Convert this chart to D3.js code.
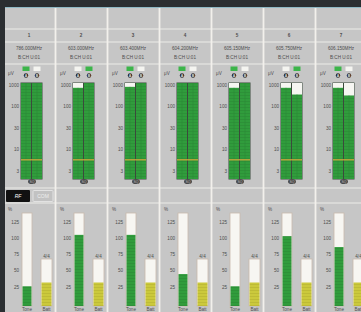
<!DOCTYPE html>
<html>
<head>
<meta charset="utf-8">
<script src="https://cdnjs.cloudflare.com/ajax/libs/d3/7.8.5/d3.min.js"></script>
<style>
    html, body { margin: 0; padding: 0; background: #2b2e31; overflow: hidden; }
    svg { display: block; font-family: "Liberation Sans", "DejaVu Sans", sans-serif; }
    .lbl { fill: #4d4d4d; font-size: 4.6px; }
</style>
</head>
<body>
<svg width="361" height="312"></svg>
<script>
    // channel strip values
    var channels = ["1", "2", "3", "4", "5", "6", "7"];
    var frequencies = ["786.000MHz", "603.000MHz", "603.400MHz", "604.200MHz", "605.150MHz", "605.750MHz", "606.150MHz"];
    var bankChannel = ["B:CH  U:01", "B:CH  U:01", "B:CH  U:01", "B:CH  U:01", "B:CH  U:01", "B:CH  U:01", "B:CH  U:01"];
    var activeAntenna = ["A", "B", "A", "A", "A", "B", "A"];
    var rfLevelA = [100, 95, 96, 100, 95, 95, 95];
    var rfLevelB = [100, 100, 100, 100, 100, 88, 87];
    var squelch = 20;
    var rfTicks = [97, 76, 53, 31, 8];
    var rfTickLabels = ["1000", "100", "30", "10", "3"];
    var afLevel = [26, 106, 106, 45, 26, 104, 87];
    var afTicks = [125, 100, 75, 50, 25];
    var batteryLevel = [50, 50, 50, 50, 50, 50, 50];

    var svg = d3.select("svg");
    var colW = 52;

    var col = d3.scaleBand().domain(channels).range([3, 3 + colW * channels.length]);
    var rfY = d3.scaleLinear().domain([0, 100]).range([179, 83]);
    var afY = d3.scaleLinear().domain([0, 140]).range([303, 213]);
    var batY = d3.scaleLinear().domain([0, 100]).range([306, 259]);

    // patterns for the segmented meters
    var defs = svg.append("defs");
    var pg = defs.append("pattern").attr("id", "segG").attr("patternUnits", "userSpaceOnUse")
        .attr("width", 4).attr("height", 3);
    pg.append("rect").attr("width", 4).attr("height", 3).attr("fill", "#309c3c");
    pg.append("rect").attr("y", 2.4).attr("width", 4).attr("height", 0.6).attr("fill", "#2a8a35");
    var py = defs.append("pattern").attr("id", "segY").attr("patternUnits", "userSpaceOnUse")
        .attr("width", 4).attr("height", 3);
    py.append("rect").attr("width", 4).attr("height", 3).attr("fill", "#cbc93c");
    py.append("rect").attr("y", 2.4).attr("width", 4).attr("height", 0.6).attr("fill", "#b5b232");

    // panel background
    svg.append("rect").attr("x", 5).attr("y", 7).attr("width", 356).attr("height", 305).attr("fill", "#c6c6c6");
    svg.append("line").attr("x1", 5).attr("x2", 361).attr("y1", 7.5).attr("y2", 7.5)
        .attr("stroke", "#8fb8c4").attr("stroke-width", 1);

    // grid lines
    var hLines = [29, 42, 64, 188, 203];
    svg.selectAll(".hl").data(hLines).enter().append("line")
        .attr("x1", 5).attr("x2", 361).attr("y1", function(d) { return d; }).attr("y2", function(d) { return d; })
        .attr("stroke", "#ecebe8").attr("stroke-width", 1.2);
    svg.selectAll(".vl").data(channels.slice(1)).enter().append("line")
        .attr("x1", function(d) { return col(d) + 0.5; }).attr("x2", function(d) { return col(d) + 0.5; })
        .attr("y1", 8).attr("y2", 312)
        .attr("stroke", "#f2f0ec").attr("stroke-width", 1.8);

    // RF / COM tabs
    svg.append("rect").attr("x", 6).attr("y", 190).attr("width", 24).attr("height", 12).attr("rx", 1).attr("fill", "#111");
    svg.append("text").attr("x", 18).attr("y", 198).attr("text-anchor", "middle").attr("fill", "#fff")
        .attr("font-size", 5).attr("font-style", "italic").text("RF");
    svg.append("rect").attr("x", 33).attr("y", 190.5).attr("width", 20).attr("height", 11).attr("rx", 1)
        .attr("fill", "#c2c2c2").attr("stroke", "#e2e2e2").attr("stroke-width", 1);
    svg.append("text").attr("x", 43).attr("y", 198).attr("text-anchor", "middle").attr("fill", "#eee")
        .attr("font-size", 5).text("COM");

    var strip = svg.selectAll(".strip").data(channels).enter().append("g")
        .attr("class", "strip")
        .attr("transform", function(d) { return "translate(" + col(d) + ",0)"; });

    strip.append("text").attr("class", "lbl").attr("x", 26).attr("y", 37).attr("text-anchor", "middle")
        .attr("font-weight", "bold").text(function(d) { return d; });
    strip.append("text").attr("class", "lbl").attr("x", 26).attr("y", 50).attr("text-anchor", "middle")
        .text(function(d, i) { return frequencies[i]; });
    strip.append("text").attr("class", "lbl").attr("x", 26).attr("y", 59).attr("text-anchor", "middle")
        .text(function(d, i) { return bankChannel[i]; });

    // antenna diversity indicators
    strip.append("text").attr("class", "lbl").attr("x", 5).attr("y", 75).text("\u03bcV");
    ["A", "B"].forEach(function(ant, k) {
        var cx = k === 0 ? 23 : 34;
        strip.append("rect").attr("x", cx - 3.5).attr("y", 66.5).attr("width", 7).attr("height", 4.5)
            .attr("fill", function(d, i) { return activeAntenna[i] === ant ? "#3cb54a" : "#f4f4f0"; });
        strip.append("circle").attr("cx", cx).attr("cy", 75.5).attr("r", 2.2).attr("fill", "#2a2a2a");
        strip.append("text").attr("x", cx).attr("y", 77).attr("text-anchor", "middle")
            .attr("fill", "#ddd").attr("font-size", 3.6).attr("font-weight", "bold").text(ant);
    });

    // RF meter ticks
    rfTicks.forEach(function(t, k) {
        strip.append("text").attr("class", "lbl").attr("x", 16).attr("y", rfY(t) + 1.6)
            .attr("text-anchor", "end").attr("font-size", 4).text(rfTickLabels[k]);
    });

    // RF meters A & B
    strip.append("rect").attr("x", 17.5).attr("y", rfY(100) - 0.5).attr("width", 22).attr("height", rfY(0) - rfY(100) + 1)
        .attr("fill", "#3b4a3c");
    [[18, rfLevelA], [29, rfLevelB]].forEach(function(m) {
        strip.append("rect").attr("x", m[0]).attr("y", rfY(100)).attr("width", 10).attr("height", rfY(0) - rfY(100))
            .attr("fill", "#f6f6f2");
        strip.append("rect").attr("x", m[0]).attr("y", function(d, i) { return rfY(m[1][i]); })
            .attr("width", 10).attr("height", function(d, i) { return rfY(0) - rfY(m[1][i]); })
            .attr("fill", "url(#segG)");
        strip.append("line").attr("x1", m[0] + 5).attr("x2", m[0] + 5)
            .attr("y1", function(d, i) { return rfY(m[1][i]); }).attr("y2", rfY(0))
            .attr("stroke", "#2b8a35").attr("stroke-width", 0.6);
    });
    strip.append("line").attr("x1", 18).attr("x2", 39).attr("y1", rfY(squelch)).attr("y2", rfY(squelch))
        .attr("stroke", "#c9a33a").attr("stroke-width", 1.3);
    strip.append("ellipse").attr("cx", 29).attr("cy", 181.5).attr("rx", 4).attr("ry", 2.6).attr("fill", "#4a4a4a");
    strip.append("text").attr("x", 29).attr("y", 183).attr("text-anchor", "middle").attr("fill", "#bbb")
        .attr("font-size", 3.5).text("SQ");

    // AF section
    strip.append("text").attr("class", "lbl").attr("x", 5).attr("y", 211).text("%");
    afTicks.forEach(function(t) {
        strip.append("text").attr("class", "lbl").attr("x", 16).attr("y", afY(t) + 1.6)
            .attr("text-anchor", "end").attr("font-size", 4).text(t);
    });
    strip.append("rect").attr("x", 19).attr("y", afY(140)).attr("width", 10).attr("height", 306 - afY(140))
        .attr("fill", "#f7f6f2").attr("stroke", "#c9b9ac").attr("stroke-width", 0.8);
    strip.append("rect").attr("x", 19.5).attr("y", function(d, i) { return afY(afLevel[i]); })
        .attr("width", 9).attr("height", function(d, i) { return 306 - afY(afLevel[i]); })
        .attr("fill", "url(#segG)");

    // battery
    strip.append("rect").attr("x", 38).attr("y", batY(100)).attr("width", 11).attr("height", batY(0) - batY(100))
        .attr("fill", "#f7f6f2").attr("stroke", "#c9b9ac").attr("stroke-width", 0.8);
    strip.append("rect").attr("x", 38.5).attr("y", function(d, i) { return batY(batteryLevel[i]); })
        .attr("width", 10).attr("height", function(d, i) { return batY(0) - batY(batteryLevel[i]); })
        .attr("fill", "url(#segY)");
    strip.append("text").attr("class", "lbl").attr("x", 43.5).attr("y", 257.5).attr("text-anchor", "middle")
        .attr("font-size", 3.6).text("4/4");

    strip.append("text").attr("class", "lbl").attr("x", 24).attr("y", 311).attr("text-anchor", "middle")
        .attr("font-size", 3.6).text("Tone");
    strip.append("text").attr("class", "lbl").attr("x", 43.5).attr("y", 311).attr("text-anchor", "middle")
        .attr("font-size", 3.6).text("Batt");
</script>
</body>
</html>
